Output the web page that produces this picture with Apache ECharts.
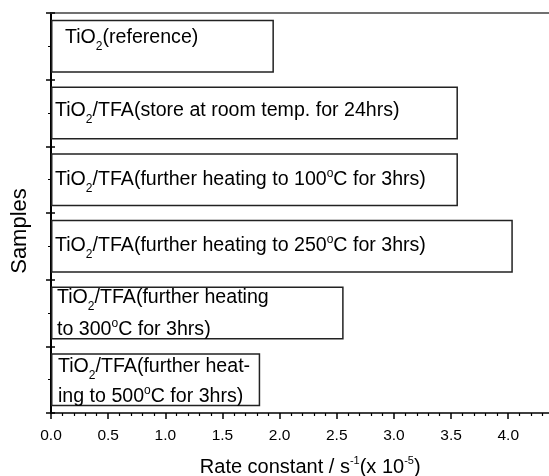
<!DOCTYPE html>
<html><head><meta charset="utf-8">
<script src="https://cdn.jsdelivr.net/npm/echarts@6/dist/echarts.min.js"></script>
<style>html,body{margin:0;padding:0;background:#fff;overflow:hidden}#c{width:549px;height:476px}</style>
</head><body><div id="c"></div>
<script>
// ---- data ----
const categories = [
  'TiO2(reference)',
  'TiO2/TFA(store at room temp. for 24hrs)',
  'TiO2/TFA(further heating to 100°C for 3hrs)',
  'TiO2/TFA(further heating to 250°C for 3hrs)',
  'TiO2/TFA(further heating to 300°C for 3hrs)',
  'TiO2/TFA(further heating to 500°C for 3hrs)'
];
const rateConstants = [1.95, 3.56, 3.56, 4.04, 2.56, 1.83];
const barLabels = [
  'TiO{sub|2}(reference)',
  'TiO{sub|2}/TFA(store at room temp. for 24hrs)',
  'TiO{sub|2}/TFA(further heating to 100{sup|o}C for 3hrs)',
  'TiO{sub|2}/TFA(further heating to 250{sup|o}C for 3hrs)',
  'TiO{sub|2}/TFA(further heating\nto 300{sup|o}C for 3hrs)',
  'TiO{sub|2}/TFA(further heat-\ning to 500{sup|o}C for 3hrs)'
];
const xAxisTitle = 'Rate constant / s{sup|-1}(x 10{sup|-5})';
const yAxisTitle = 'Samples';
const xMin = 0, xMax = 4.5, xStep = 0.5;

// ---- label layout (style only) ----
const labelOffsets = [[14, -8.5], [4, -2], [4, 0], [4, -1], [6, 1], [7, 2]];
const labelLineHeights = [24, 24, 24, 24, 32, 30];

const FONT = '"Liberation Sans", Arial, sans-serif';
const chart = echarts.init(document.getElementById('c'), null, {renderer: 'canvas'});

const seriesData = rateConstants.map((v, i) => ({
  value: v,
  label: {
    formatter: barLabels[i],
    offset: labelOffsets[i],
    lineHeight: labelLineHeights[i]
  }
}));

const catAxisBase = {
  type: 'category',
  data: categories,
  inverse: true,
  position: 'left',
  axisLabel: {show: false},
  splitLine: {show: false}
};

chart.setOption({
  animation: false,
  backgroundColor: '#fff',
  grid: {left: 51, top: 13, width: 514.4, height: 400, containLabel: false, outerBoundsMode: 'none'},
  xAxis: [{
    type: 'value',
    min: xMin, max: xMax, interval: xStep,
    position: 'bottom',
    name: xAxisTitle,
    nameLocation: 'middle',
    nameGap: 42,
    nameTextStyle: {
      fontFamily: FONT, fontSize: 20, color: '#000', padding: [0, 0, 0, 4],
      rich: {sup: {fontSize: 11, padding: [0, 0, 14, 0], fontFamily: FONT, color: '#000'}}
    },
    axisLine: {show: true, lineStyle: {color: '#000', width: 1.5}},
    axisTick: {show: true, inside: false, length: 6, lineStyle: {color: '#000', width: 1.5}},
    minorTick: {show: true, splitNumber: 5, length: 3, lineStyle: {color: '#000', width: 1.2}},
    axisLabel: {
      fontFamily: FONT, fontSize: 15.5, color: '#000', margin: 15,
      showMaxLabel: false,
      formatter: v => v.toFixed(1)
    },
    splitLine: {show: false}
  }, {
    type: 'value',
    min: xMin, max: xMax, interval: xStep,
    position: 'top',
    axisLine: {show: true, lineStyle: {color: '#707070', width: 2}},
    axisTick: {show: false},
    axisLabel: {show: false},
    splitLine: {show: false}
  }],
  yAxis: [
    Object.assign({}, catAxisBase, {
      name: yAxisTitle,
      nameLocation: 'middle',
      nameGap: 20,
      nameRotate: 90,
      nameTextStyle: {fontFamily: FONT, fontSize: 22, color: '#000', padding: [0, 36, 0, 0]},
      axisLine: {show: true, lineStyle: {color: '#000', width: 2}},
      axisTick: {show: true, inside: false, length: 5, lineStyle: {color: '#000', width: 1.5}}
    }),
    Object.assign({}, catAxisBase, {
      axisLine: {show: false},
      axisTick: {show: true, inside: true, length: 4, lineStyle: {color: '#000', width: 1.5}}
    }),
    Object.assign({}, catAxisBase, {
      axisLine: {show: false},
      axisTick: {show: true, inside: false, alignWithLabel: true, length: 3, lineStyle: {color: '#000', width: 1}}
    })
  ],
  series: [{
    type: 'bar',
    xAxisIndex: 0,
    yAxisIndex: 0,
    barWidth: 53,
    data: seriesData,
    itemStyle: {color: '#fff', borderColor: '#222', borderWidth: 1.5},
    label: {
      show: true,
      position: 'insideLeft',
      distance: 0,
      fontFamily: FONT,
      fontSize: 19.6,
      color: '#000',
      rich: {
        sub: {fontSize: 12, padding: [18, 0, 0, 0], fontFamily: FONT, color: '#000'},
        sup: {fontSize: 12, padding: [0, 0, 12, 0], fontFamily: FONT, color: '#000'}
      }
    }
  }]
});
</script>
</body></html>
